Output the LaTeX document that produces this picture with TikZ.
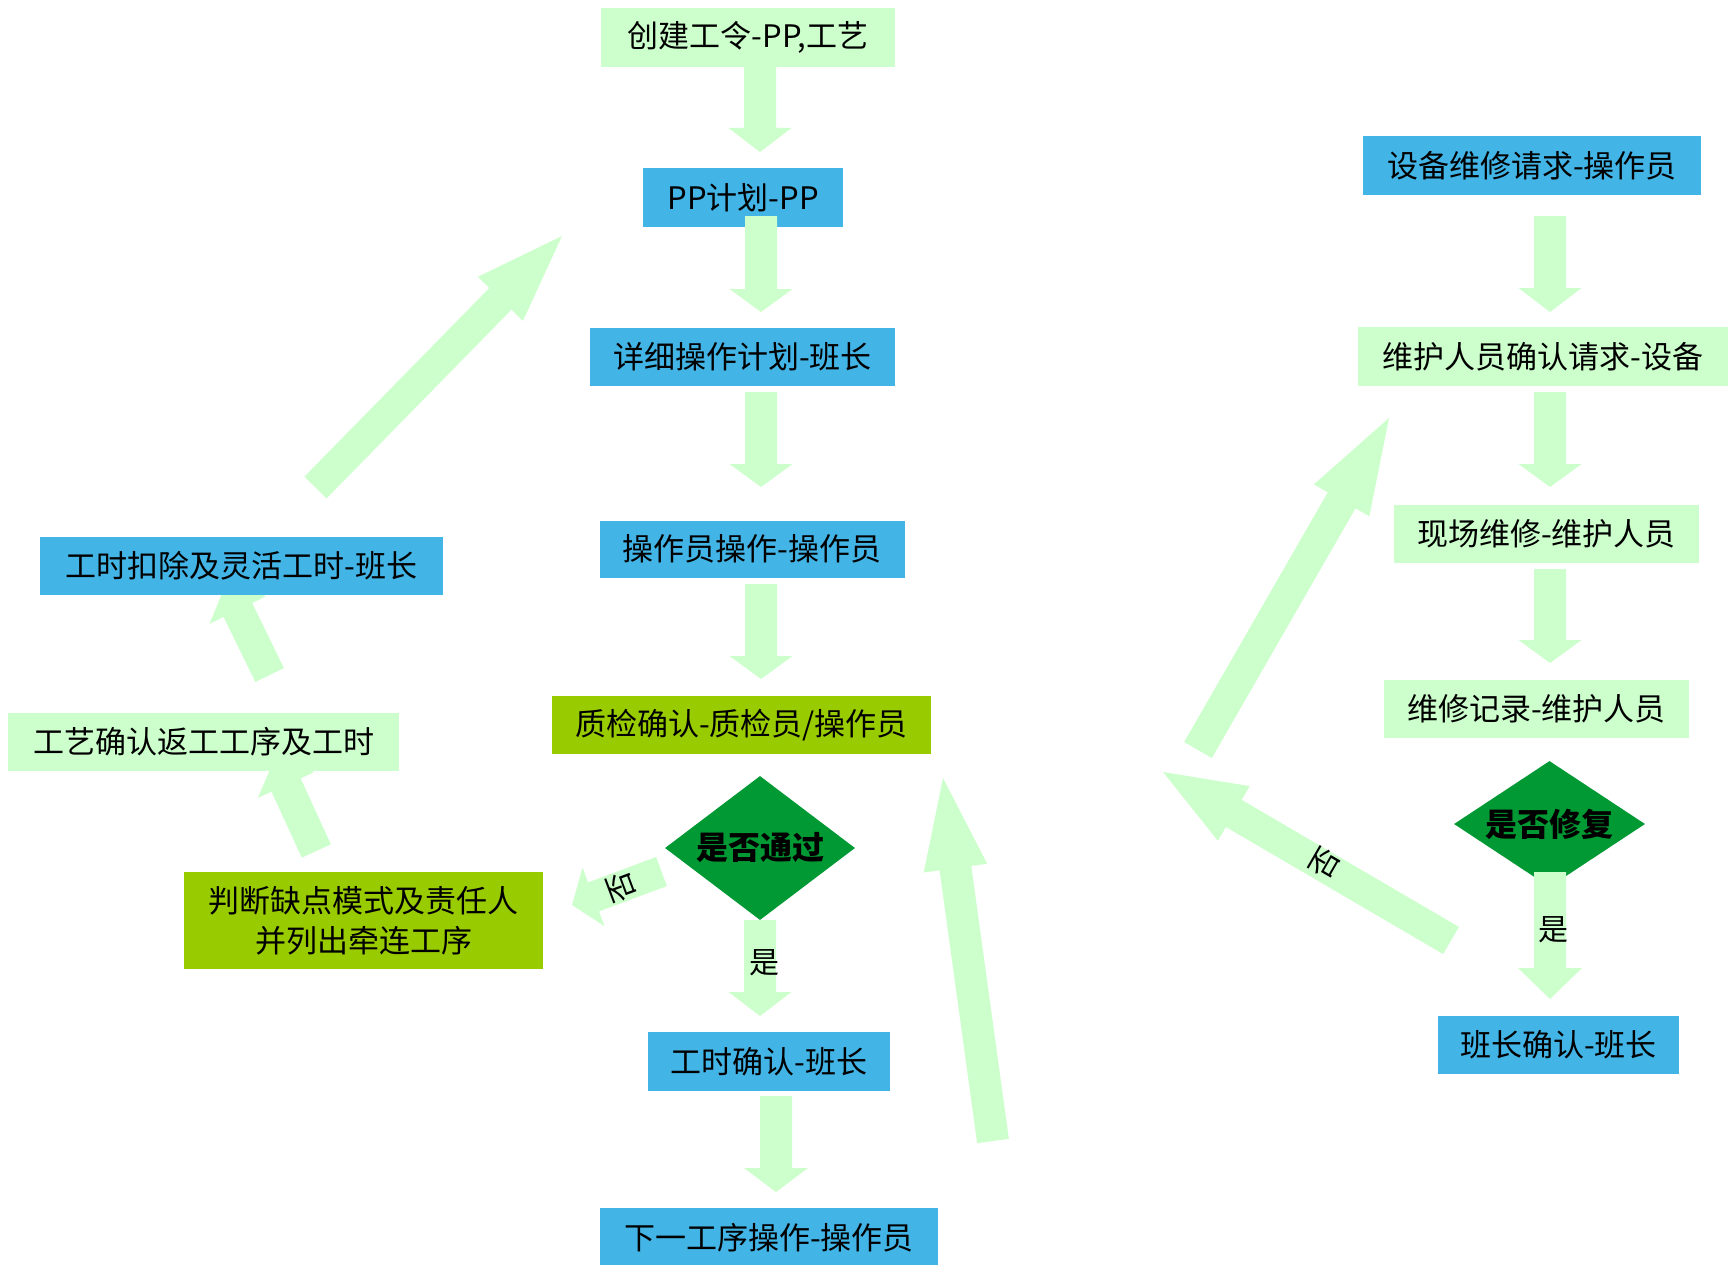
\documentclass[tikz,border=0pt]{standalone}
\usepackage{fontspec}
\setmainfont{Noto Sans CJK SC}
\usetikzlibrary{calc,shapes.geometric}
\definecolor{boxblue}{HTML}{42B4E6}
\definecolor{lgreen}{HTML}{CCFFCC}
\definecolor{ygreen}{HTML}{99CC00}
\definecolor{dgreen}{HTML}{009933}
\pgfdeclarelayer{bg}
\pgfsetlayers{bg,main}
% start, tip, half shaft width, head length, half head width
\newcommand\fatarrow[5]{%
  \coordinate (faS) at (#1);
  \coordinate (faT) at (#2);
  \coordinate (faB) at ($(faT)!#4!(faS)$);
  \fill[arrowfill] ($(faS)!#3!90:(faT)$) -- ($(faB)!#3!90:(faT)$) -- ($(faB)!#5!90:(faT)$) -- (faT)
    -- ($(faB)!#5!-90:(faT)$) -- ($(faB)!#3!-90:(faT)$) -- ($(faS)!#3!-90:(faT)$) -- cycle;
}
\begin{document}
\begin{tikzpicture}[x=1pt,y=-1pt,
  arrowfill/.style={fill=lgreen},
  box/.style={rectangle, inner sep=0pt, font=\fontsize{31pt}{36pt}\selectfont},
  bluebox/.style={box, fill=boxblue},
  lightbox/.style={box, fill=lgreen},
  ybox/.style={box, fill=ygreen},
  decision/.style={diamond, fill=dgreen, inner sep=0pt, font=\bfseries\fontsize{32pt}{38pt}\selectfont},
  lbl/.style={inner sep=0pt, font=\fontsize{30pt}{36pt}\selectfont}]
\useasboundingbox (0,0) rectangle (1728,1265);

% centre column
\node[lightbox, minimum width=294pt, minimum height=59pt] (n1) at (748,37.5) {创建工令-PP,工艺};
\node[bluebox, minimum width=200pt, minimum height=59pt] (n2) at (743,197.5) {PP计划-PP};
\node[bluebox, minimum width=305pt, minimum height=58pt] (n3) at (742.5,357) {详细操作计划-班长};
\node[bluebox, minimum width=305pt, minimum height=57pt] (n4) at (752,549) {操作员操作-操作员};
\node[ybox, minimum width=379pt, minimum height=58pt] (n5) at (741.5,725) {质检确认-质检员/操作员};
\node[decision, aspect=1.32, minimum width=190pt, minimum height=144pt] (d1) at (760,848) {是否通过};
\node[bluebox, minimum width=242pt, minimum height=59pt] (n6) at (769,1061.5) {工时确认-班长};
\node[bluebox, minimum width=338pt, minimum height=59pt] (n7) at (769,1237.5) {下一工序操作-操作员};

% left column
\node[ybox, minimum width=359pt, minimum height=97pt, align=center, font=\fontsize{31pt}{40pt}\selectfont] (n8) at (363.5,920.5) {判断缺点模式及责任人\\并列出牵连工序};
\node[lightbox, minimum width=391pt, minimum height=58pt] (n9) at (203.5,741.5) {工艺确认返工工序及工时};
\node[bluebox, minimum width=403pt, minimum height=58pt] (n10) at (241.5,566) {工时扣除及灵活工时-班长};

% right column
\node[bluebox, minimum width=338pt, minimum height=59pt] (r1) at (1532,165.5) {设备维修请求-操作员};
\node[lightbox, minimum width=370pt, minimum height=59pt] (r2) at (1543,356.5) {维护人员确认请求-设备};
\node[lightbox, minimum width=305pt, minimum height=58pt] (r3) at (1546.5,534) {现场维修-维护人员};
\node[lightbox, minimum width=305pt, minimum height=58pt] (r4) at (1536.5,709) {维修记录-维护人员};
\node[decision, aspect=1.52, minimum width=191pt, minimum height=126pt] (d2) at (1549.5,824) {是否修复};
\node[bluebox, minimum width=241pt, minimum height=58pt] (r5) at (1558.5,1045) {班长确认-班长};

% arrow tips and free ends
\coordinate (a1) at (760,152);
\coordinate (a2) at (761,312);
\coordinate (a3) at (761,487);
\coordinate (a4) at (761,679);
\coordinate (a5) at (760,1016);
\coordinate (a6) at (776,1192);
\coordinate (a7) at (1550,312);
\coordinate (a8) at (1550,487);
\coordinate (a9) at (1550,663);
\coordinate (a10) at (1550,999);
\coordinate (l1s) at (316.3,851);
\coordinate (l1t) at (274.4,759.5);
\coordinate (l2s) at (269.6,675);
\coordinate (l2t) at (225.6,584.8);
\coordinate (g1s) at (315.5,487.5);
\coordinate (g1t) at (562,236);
\coordinate (g2s) at (1198,750);
\coordinate (g2t) at (1389,418);
\coordinate (g3s) at (993,1141);
\coordinate (g3t) at (943,778);
\coordinate (m1s) at (661.5,871.5);
\coordinate (m1t) at (572,905);
\coordinate (m2s) at (1451,940.5);
\coordinate (m2t) at (1163,772);

% background and arrows hidden under boxes
\begin{pgfonlayer}{bg}
\fill[white] (0,0) rectangle (1728,1265);
\fatarrow{l1s}{l1t}{16pt}{28pt}{31pt}
\fatarrow{l2s}{l2t}{15.9pt}{28pt}{31.5pt}
\end{pgfonlayer}

% vertical arrows
\fatarrow{n1.south -| a1}{a1}{16pt}{24pt}{31.5pt}
\fatarrow{$(n2.south -| a2)+(0,-11)$}{a2}{16pt}{23pt}{31.5pt}
\fatarrow{$(n3.south -| a3)+(0,6)$}{a3}{16pt}{23pt}{31.5pt}
\fatarrow{$(n4.south -| a4)+(0,6.5)$}{a4}{16pt}{23pt}{31.5pt}
\fatarrow{d1.south -| a5}{a5}{16pt}{24pt}{31.5pt}
\fatarrow{$(n6.south -| a6)+(0,5)$}{a6}{16pt}{24pt}{32pt}
\fatarrow{$(r1.south -| a7)+(0,21)$}{a7}{16pt}{24pt}{31.5pt}
\fatarrow{$(r2.south -| a8)+(0,6)$}{a8}{16pt}{23pt}{31.5pt}
\fatarrow{$(r3.south -| a9)+(0,6)$}{a9}{16pt}{23pt}{31.5pt}
\fatarrow{$(d2.south -| a10)+(0,-15)$}{a10}{16pt}{31pt}{32pt}

% long arrows
\fatarrow{g1s}{g1t}{15.5pt}{88pt}{31.5pt}
\fatarrow{g2s}{g2t}{16pt}{95pt}{32pt}
\fatarrow{g3s}{g3t}{16pt}{91pt}{32pt}
\fatarrow{m1s}{m1t}{15.5pt}{23pt}{31.3pt}
\fatarrow{m2s}{m2t}{15.7pt}{82pt}{31.6pt}

% labels
\node[lbl, rotate=110.5] (no1) at (621,887) {否};
\node[lbl, rotate=60] (no2) at (1325,863) {否};
\node[lbl] (yes1) at (764,963) {是};
\node[lbl] (yes2) at (1553,930) {是};
\end{tikzpicture}
\end{document}
